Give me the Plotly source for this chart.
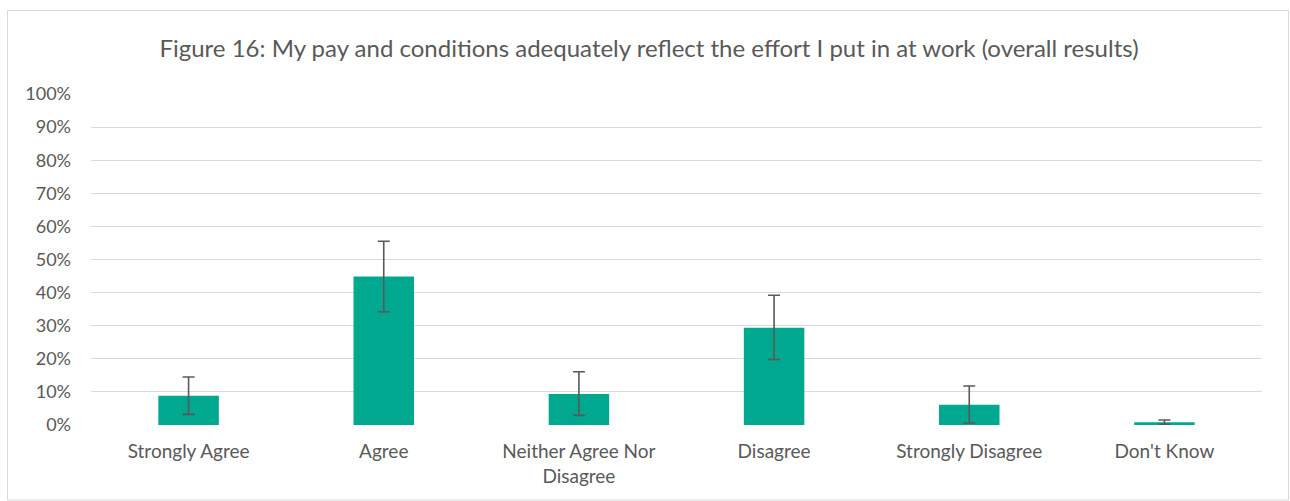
import plotly.graph_objects as go

categories = ["Strongly Agree", "Agree", "Neither Agree Nor<br>Disagree", "Disagree", "Strongly Disagree", "Don't Know"]
values = [8.8, 44.9, 9.4, 29.4, 6.1, 0.8]
err_plus = [5.7, 10.6, 6.7, 9.8, 5.7, 0.7]
err_minus = [5.6, 10.7, 6.5, 9.6, 5.5, 0.6]
y_ticks = [0, 10, 20, 30, 40, 50, 60, 70, 80, 90, 100]
y_tick_labels = [f"{t}%" for t in y_ticks]

title_text = "Figure 16: My pay and conditions adequately reflect the effort I put in at work (overall results)"

W, H = 1290, 501
L, R, T, B = 91, 28, 94, 76
pw, ph = W - L - R, H - T - B

fig = go.Figure()
fig.add_trace(go.Bar(
    x=categories, y=values,
    marker=dict(color="#00A88F", line=dict(width=0)),
    width=0.31,
    error_y=dict(type="data", symmetric=False, array=err_plus, arrayminus=err_minus,
                 color="#595959", thickness=1.6, width=6),
))

# outer chart border (pixel -> paper coords)
def px_x(x):
    return (x - L) / pw

def px_y(y):
    return (H - B - y) / ph

fig.add_shape(type="rect", xref="paper", yref="paper",
              x0=px_x(7.5), x1=px_x(1288.5), y0=px_y(500), y1=px_y(10.5),
              line=dict(color="#d9d9d9", width=1), fillcolor="rgba(0,0,0,0)", layer="below")

fig.update_layout(
    width=W, height=H,
    margin=dict(l=L, r=R, t=T, b=B),
    paper_bgcolor="white", plot_bgcolor="white",
    showlegend=False,
    font=dict(family="Lato, Open Sans, sans-serif", color="#595959", size=19),
    title=dict(text=title_text, x=649 / W, xanchor="center", y=1 - 48.5 / H, yanchor="middle",
               font=dict(size=24, color="#595959")),
)
fig.update_yaxes(range=[0, 100], tickvals=y_ticks, ticktext=y_tick_labels,
                 showgrid=True, gridcolor="#d9d9d9", gridwidth=1, zeroline=False,
                 showline=False, ticks="", ticklabelstandoff=19,
                 tickfont=dict(size=18, color="#595959"))
fig.update_xaxes(showgrid=False, showline=False, ticks="", ticklabelstandoff=13,
                 tickfont=dict(size=19, color="#595959"))

fig.write_html("out.html", config={"displayModeBar": False},
               post_script="document.body.style.margin='0';document.body.style.overflow='hidden';")
